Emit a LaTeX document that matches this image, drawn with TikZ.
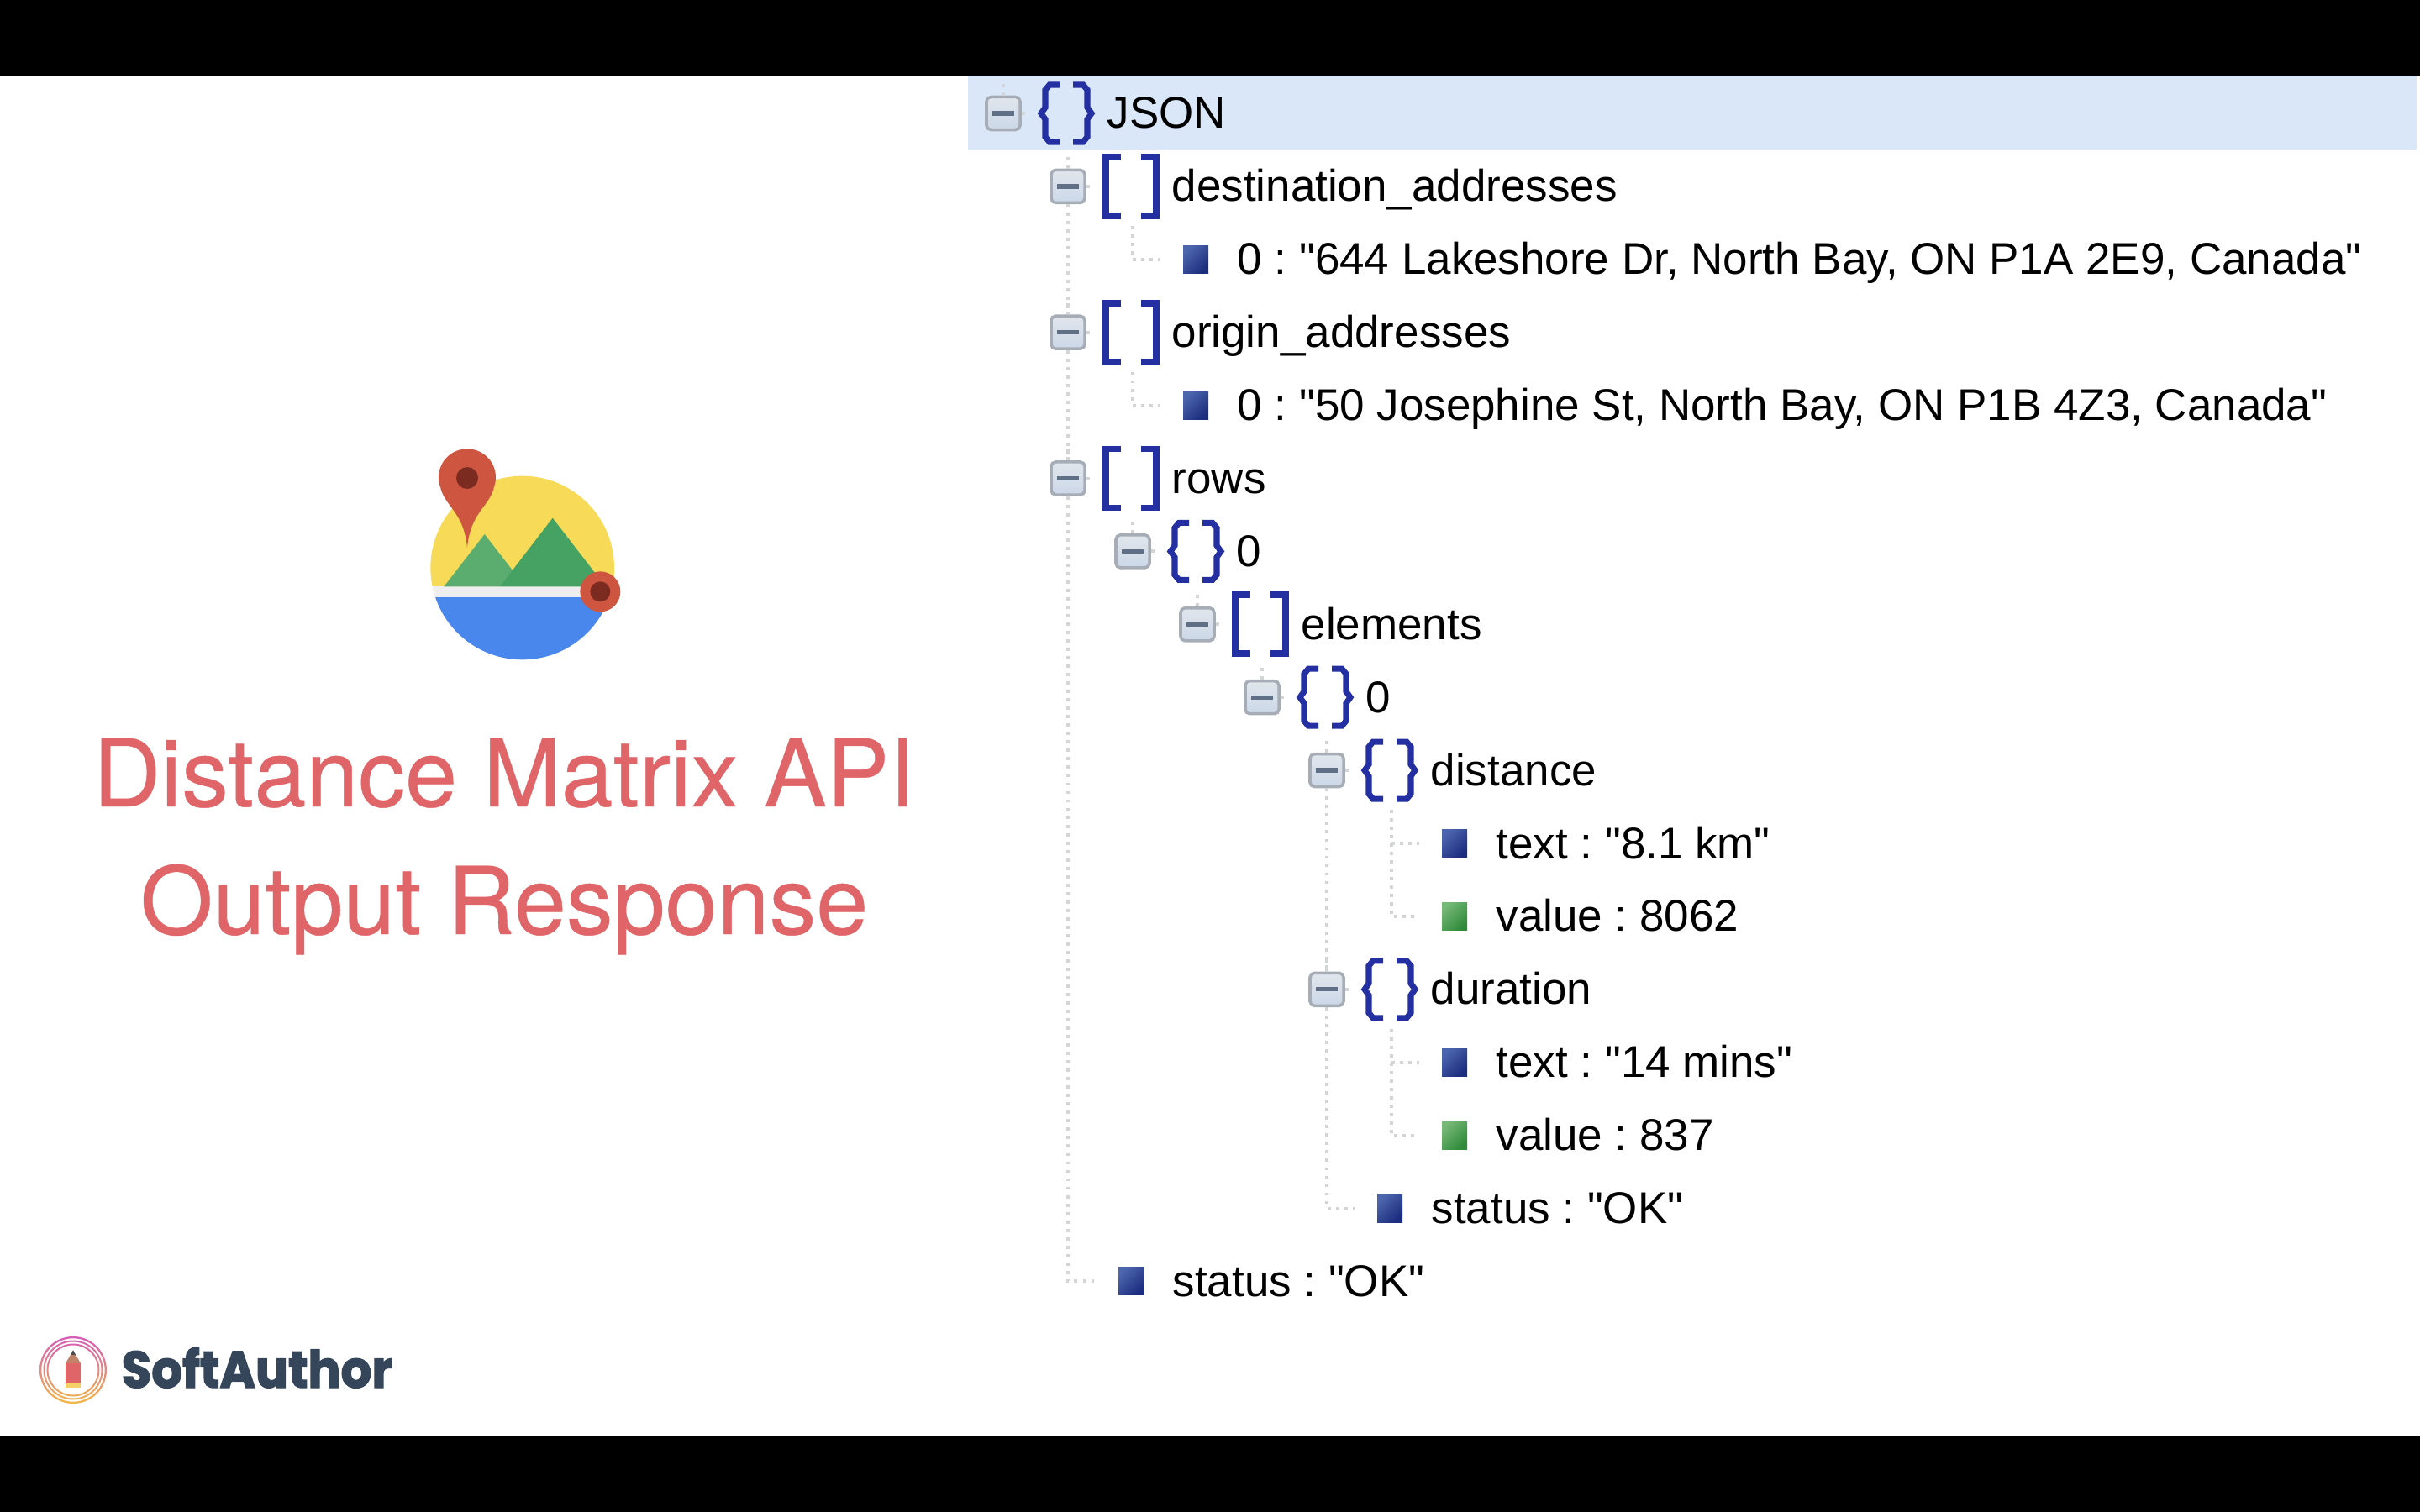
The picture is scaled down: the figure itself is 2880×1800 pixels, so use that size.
\documentclass[tikz,border=0pt]{standalone}
\usepackage{fontspec}
\newfontfamily\rowfont{Liberation Sans}
\newfontfamily\titlefont{TeX Gyre Heros}[FakeBold=0.4]
\newfontfamily\logofont{Poppins}[BoldFeatures={FakeBold=2.2,FakeStretch=0.94}]
\usetikzlibrary{calc,positioning}

\definecolor{rowsel}{HTML}{DAE7F8}
\definecolor{icondeep}{HTML}{2430A2}
\definecolor{strtop}{HTML}{4C66AE}
\definecolor{strbot}{HTML}{1C2C7E}
\definecolor{numtop}{HTML}{76B876}
\definecolor{numbot}{HTML}{2F8A3A}
\definecolor{dotgrey}{HTML}{D2D4D6}
\definecolor{togtop}{HTML}{E2E6EC}
\definecolor{togmid}{HTML}{FAFCFF}
\definecolor{togbot}{HTML}{CBD7E8}
\definecolor{togedge}{HTML}{A7ADB6}
\definecolor{togbar}{HTML}{5F6F85}
\definecolor{pinred}{HTML}{CE5640}
\definecolor{pindark}{HTML}{7B2B20}
\definecolor{sun}{HTML}{F6DA58}
\definecolor{hilllight}{HTML}{5BAD6F}
\definecolor{hilldark}{HTML}{46A263}
\definecolor{shore}{HTML}{EEEEEE}
\definecolor{water}{HTML}{4A87EC}
\definecolor{titlered}{HTML}{E06569}
\definecolor{logoink}{HTML}{35465A}
\definecolor{ringtop}{HTML}{D65DB8}
\definecolor{ringbot}{HTML}{F0B84A}
\definecolor{pencilwood}{HTML}{C08468}
\definecolor{pencilend}{HTML}{F5D068}

\tikzset{
	treeline/.style={draw=dotgrey,line width=1.1pt,dash pattern=on 1.1pt off 1.75pt},
	toggle/.style={rectangle,rounded corners=1.5pt,minimum width=0.40cm,minimum height=0.39cm,inner sep=0pt,
		draw=togedge,line width=1pt,top color=togtop,middle color=togmid,bottom color=togbot},
	minusbar/.style={draw=togbar,line width=1.5pt},
	leaf/.style={rectangle,minimum width=0.30cm,minimum height=0.33cm,inner sep=0pt},
	strleaf/.style={leaf,top color=strtop,bottom color=strbot,shading angle=45},
	numleaf/.style={leaf,top color=numtop,bottom color=numbot,shading angle=45},
	rowtext/.style={anchor=base west,inner sep=0pt,font=\rowfont\frenchspacing\fontsize{15.06}{18}\selectfont},
	titletext/.style={anchor=base,inner sep=0pt,text=titlered,font=\titlefont\fontsize{31.7}{38}\selectfont},
	obj/.pic={
		\draw[icondeep,line width=2pt] (-8,-34) -- (-20,-34) -- (-25,-28) -- (-25,-7) -- (-30,0) -- (-25,7) -- (-25,28) -- (-20,34) -- (-8,34);
		\draw[icondeep,line width=2pt] (8,-34) -- (20,-34) -- (25,-28) -- (25,-7) -- (30,0) -- (25,7) -- (25,28) -- (20,34) -- (8,34);
	},
	arr/.pic={
		\draw[icondeep,line width=2.2pt] (-12,-35) -- (-30,-35) -- (-30,35) -- (-12,35);
		\draw[icondeep,line width=2.2pt] (12,-35) -- (30,-35) -- (30,35) -- (12,35);
	},
}

\begin{document}
\begin{tikzpicture}[x=0.01cm,y=-0.01cm]
	\useasboundingbox (0,0) rectangle (2880,1800);
	\fill[black] (0,0) rectangle (2880,90);
	\fill[black] (0,1710) rectangle (2880,1800);
	\fill[rowsel] (1152,90) rectangle (2876,178);

	% branches of the tree
	\foreach \r/\l/\k/\t in {0/0/obj/JSON,1/1/arr/destination\_addresses,3/1/arr/origin\_addresses,5/1/arr/rows,6/2/obj/0,7/3/arr/elements,8/4/obj/0,9/5/obj/distance,12/5/obj/duration} {
		\node[toggle] (n\r) at ({1194+77*\l},{135+86.9*\r}) {};
		\draw[minusbar] ($(n\r)+(-13,0)$) -- ($(n\r)+(13,0)$);
		\pic at ($(n\r)+(75,0)$) {\k};
		\node[rowtext] (t\r) at ($(n\r)+(123,18)$) {\t};
	};
	% leaves
	\foreach \r/\l/\c/\t in {2/2/str/{0 : "644 Lakeshore Dr, North Bay, ON P1A 2E9, Canada"},4/2/str/{0 : "50 Josephine St, North Bay, ON P1B 4Z3, Canada"},10/6/str/{text : "8.1 km"},11/6/num/{value : 8062},13/6/str/{text : "14 mins"},14/6/num/{value : 837},15/5/str/{status : "OK"},16/1/str/{status : "OK"}} {
		\node[\c leaf] (n\r) at ({1194+77*\l+75},{135+86.9*\r}) {};
		\node[rowtext] (t\r) at ($(n\r)+(49,18)$) {\t};
	};

	% dotted connectors
	\foreach \r in {0,1,3,5,6,7,8,9,12} {
		\draw[treeline] (n\r.north) -- ++(0,-18);
		\draw[treeline] (n\r.east) -- ++(7,0);
	};
	\draw[treeline] (n1.south) -- (n3.north);
	\draw[treeline] (n3.south) -- (n5.north);
	\draw[treeline] (n5.south) |- ($(n16)+(-42,0)$);
	\draw[treeline] (n9.south) -- (n12.north);
	\draw[treeline] (n12.south) |- ($(n15)+(-42,0)$);
	\foreach \r in {2,4,10,13} {
		\draw[treeline] ($(n\r)+(-75,-40)$) |- ($(n\r)+(-42,0)$);
	};
	\draw[treeline] ($(n10)+(-75,0)$) |- ($(n11)+(-42,0)$);
	\draw[treeline] ($(n13)+(-75,0)$) |- ($(n14)+(-42,0)$);

	% map icon
	\begin{scope}[shift={(480,510)},scale=1/3]
		\begin{scope}
			\clip (425,498) circle (328);
			\fill[sun] (90,160) rectangle (770,565);
			\fill[shore] (90,565) rectangle (770,602);
			\fill[water] (90,602) rectangle (770,840);
			\fill[hilllight] (145,565) -- (290,378) -- (400,520) -- (345,565) -- cycle;
			\fill[hilldark] (345,565) -- (533,320) -- (722,565) -- cycle;
		\end{scope}
		\fill[pinred] (228,175) circle (102);
		\fill[pinred] (133,215) .. controls (155,285) and (215,300) .. (228,425) .. controls (241,300) and (301,285) .. (323,215) -- cycle;
		\fill[pindark] (228,177) circle (39);
		\fill[pinred] (703,583) circle (72);
		\fill[pindark] (703,583) circle (36);
	\end{scope}

	\node[titletext] (title1) at (600,960) {Distance Matrix API};
	\node[titletext] (title2) at (600,1112) {Output Response};

	% logo
	\shade[top color=ringtop,bottom color=ringbot,even odd rule] (87,1631) circle (40) circle (37.7) circle (35.5) circle (33.5) circle (31.5) circle (29.5);
	\fill[pencilwood] (78,1623) -- (85,1611) -- (89,1611) -- (96,1623) -- cycle;
	\fill[black!70] (84,1613) -- (87,1607) -- (90,1613) -- cycle;
	\fill[titlered] (78,1623) rectangle (96,1647);
	\fill[pencilend] (78,1647) rectangle (96,1652);
	\node[anchor=base west,inner sep=0pt,text=logoink,font=\logofont\bfseries\fontsize{17.5}{20}\selectfont] (brand) at (144,1652) {SoftAuthor};
\end{tikzpicture}
\end{document}
